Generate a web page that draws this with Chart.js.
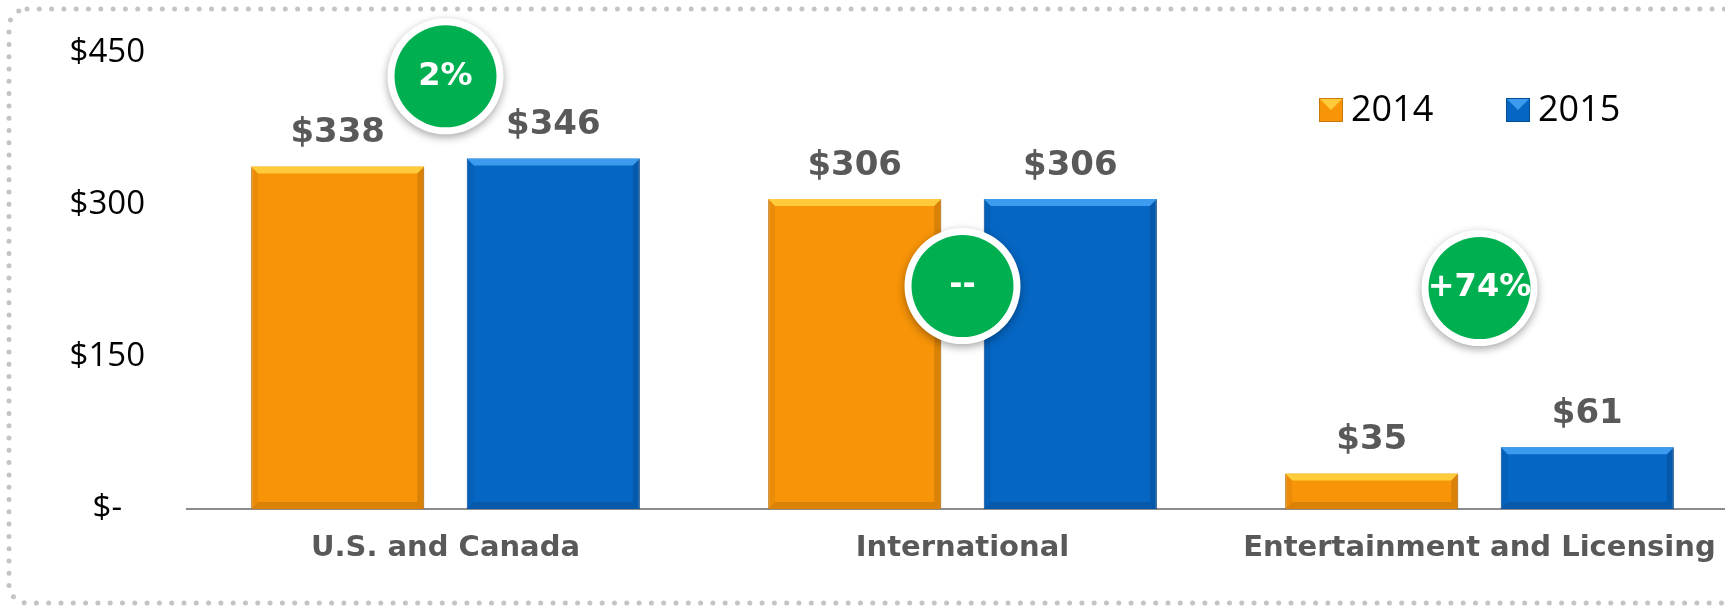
<!DOCTYPE html>
<html>
<head>
<meta charset="utf-8">
<script src="https://cdn.jsdelivr.net/npm/chart.js@4/dist/chart.umd.min.js"></script>
<style>
  html, body { margin: 0; padding: 0; background: #fff; overflow: hidden; }
  #wrap { width: 1725px; height: 609px; overflow: hidden; }
</style>
</head>
<body>
<div id="wrap"><canvas id="revenue-chart" width="1745" height="609"></canvas></div>
<script>
// chart values
const categories = ['U.S. and Canada', 'International', 'Entertainment and Licensing'];
const seriesNames = ['2014', '2015'];
const values2014 = [338, 306, 35];
const values2015 = [346, 306, 61];
const yTicks = [0, 150, 300, 450];
const changeLabels = ['2%', '--', '+74%'];
const changeLevel = [427, 220, 218]; // where the green bubble sits, in axis units

const GREY = '#595959';
const barFills = ['#F79408', '#0566C3'];
const barEdges = ['#C9780C', '#044E98'];
const bevelLight = ['#FFCB3A', '#3C9BEE'];

function money(v) {
    return v === 0 ? '$-' : '$' + v;
}

// dotted frame round the whole picture
const framePlugin = {
    id: 'frame',
    beforeDraw(chart) {
        const ctx = chart.ctx;
        ctx.save();
        ctx.strokeStyle = '#c4c4c4';
        ctx.lineWidth = 5;
        ctx.lineCap = 'round';
        ctx.setLineDash([0, 12.3]);
        ctx.beginPath();
        ctx.roundRect(9, 9, 1800, 594, 18);
        ctx.stroke();
        ctx.restore();
    }
};

// bevelled look of the bars + value labels above them
const barDecor = {
    id: 'barDecor',
    afterDatasetsDraw(chart) {
        const ctx = chart.ctx;
        chart.data.datasets.forEach((ds, di) => {
            const meta = chart.getDatasetMeta(di);
            meta.data.forEach((bar, i) => {
                const L = bar.x - bar.width / 2, R = bar.x + bar.width / 2;
                const T = bar.y, B = bar.base;
                const b = Math.min(7, (B - T) / 3);
                ctx.save();
                // top bevel
                ctx.fillStyle = bevelLight[di];
                ctx.beginPath();
                ctx.moveTo(L, T); ctx.lineTo(R, T); ctx.lineTo(R - b, T + b); ctx.lineTo(L + b, T + b);
                ctx.closePath(); ctx.fill();
                // right + bottom a bit darker
                ctx.fillStyle = 'rgba(0,0,0,0.12)';
                ctx.beginPath();
                ctx.moveTo(R, T); ctx.lineTo(R, B); ctx.lineTo(R - b, B - b); ctx.lineTo(R - b, T + b);
                ctx.closePath(); ctx.fill();
                ctx.beginPath();
                ctx.moveTo(L, B); ctx.lineTo(R, B); ctx.lineTo(R - b, B - b); ctx.lineTo(L + b, B - b);
                ctx.closePath(); ctx.fill();
                ctx.fillStyle = 'rgba(0,0,0,0.05)';
                ctx.beginPath();
                ctx.moveTo(L, T); ctx.lineTo(L + b, T + b); ctx.lineTo(L + b, B - b); ctx.lineTo(L, B);
                ctx.closePath(); ctx.fill();
                // value label
                ctx.fillStyle = GREY;
                ctx.font = 'bold 34px "DejaVu Sans"';
                ctx.textAlign = 'center';
                ctx.textBaseline = 'middle';
                ctx.fillText(money(ds.data[i]), bar.x, T - 33);
                ctx.restore();
            });
        });
    }
};

// green change bubbles
const bubbles = {
    id: 'bubbles',
    afterDatasetsDraw(chart) {
        const ctx = chart.ctx;
        const xs = chart.scales.x, ys = chart.scales.y;
        changeLabels.forEach((txt, i) => {
            const cx = xs.getPixelForValue(i);
            const cy = ys.getPixelForValue(changeLevel[i]);
            ctx.save();
            ctx.shadowColor = 'rgba(0,0,0,0.35)';
            ctx.shadowBlur = 9;
            ctx.shadowOffsetY = 3;
            ctx.fillStyle = '#ffffff';
            ctx.beginPath(); ctx.arc(cx, cy, 58, 0, Math.PI * 2); ctx.fill();
            ctx.restore();
            ctx.save();
            ctx.fillStyle = '#00B050';
            ctx.beginPath(); ctx.arc(cx, cy, 51, 0, Math.PI * 2); ctx.fill();
            ctx.fillStyle = '#ffffff';
            ctx.font = 'bold 32px "DejaVu Sans"';
            ctx.textAlign = 'center';
            ctx.textBaseline = 'middle';
            ctx.fillText(txt, cx, cy);
            ctx.restore();
        });
    }
};

// legend in the top right corner
const cornerLegend = {
    id: 'cornerLegend',
    afterDraw(chart) {
        const ctx = chart.ctx;
        const spots = [1319, 1506];
        chart.data.datasets.forEach((ds, di) => {
            const x = spots[di], y = 110;
            ctx.save();
            ctx.fillStyle = barFills[di];
            ctx.fillRect(x, y - 12, 24, 24);
            ctx.fillStyle = bevelLight[di];
            ctx.beginPath();
            ctx.moveTo(x, y - 12); ctx.lineTo(x + 24, y - 12); ctx.lineTo(x + 12, y); ctx.closePath();
            ctx.fill();
            ctx.strokeStyle = barEdges[di];
            ctx.lineWidth = 1;
            ctx.strokeRect(x + 0.5, y - 11.5, 23, 23);
            ctx.fillStyle = '#000';
            ctx.font = '36px "Open Sans"';
            ctx.textBaseline = 'middle';
            ctx.fillText(ds.label, x + 32, y + 1);
            ctx.restore();
        });
    }
};

const ctx = document.getElementById('revenue-chart').getContext('2d');
const chart = new Chart(ctx, {
    type: 'bar',
    data: {
        labels: categories,
        datasets: [
            { label: seriesNames[0], data: values2014, backgroundColor: barFills[0], borderColor: barEdges[0], borderWidth: 1 },
            { label: seriesNames[1], data: values2015, backgroundColor: barFills[1], borderColor: barEdges[1], borderWidth: 1 }
        ]
    },
    options: {
        responsive: false,
        animation: false,
        categoryPercentage: 0.834,
        barPercentage: 0.803,
        layout: { padding: { top: 53, left: 0, right: 7, bottom: 0 } },
        plugins: {
            legend: { display: false },
            tooltip: { enabled: false }
        },
        scales: {
            x: {
                grid: { display: false, drawTicks: false },
                border: { display: true, color: '#8c8c8c', width: 2 },
                ticks: { color: GREY, padding: 22, font: { family: 'DejaVu Sans', weight: 'bold', size: 29 } },
                afterFit: axis => { axis.height = 100; }
            },
            y: {
                min: 0,
                max: 450,
                grid: { display: false, drawTicks: false },
                border: { display: false },
                afterBuildTicks: axis => { axis.ticks = yTicks.map(v => ({ value: v })); },
                afterFit: axis => {
                    axis.width = 187;
                    // tick padding is horizontal here, don't let it push the plot down
                    axis.paddingTop = 0;
                    axis.paddingBottom = 0;
                },
                ticks: {
                    color: '#000',
                    padding: 42,
                    crossAlign: 'center',
                    font: { family: 'Open Sans', weight: 'normal', size: 33 },
                    callback: v => money(v)
                }
            }
        }
    },
    plugins: [framePlugin, barDecor, bubbles, cornerLegend]
});
</script>
</body>
</html>
